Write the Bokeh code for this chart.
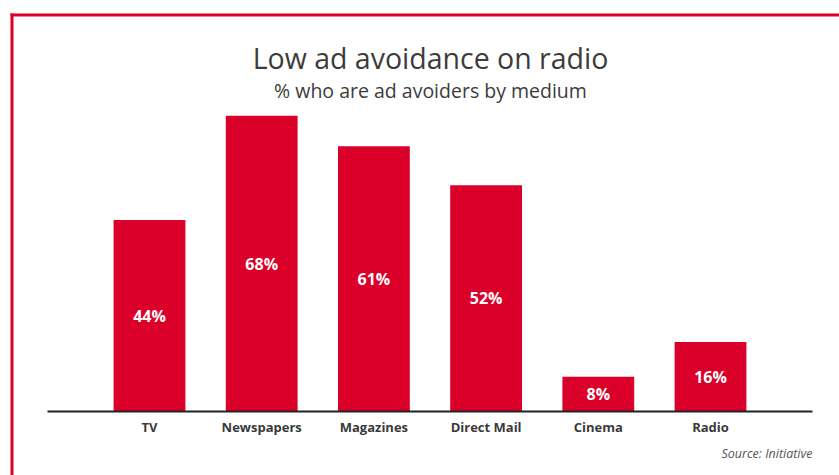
from bokeh.plotting import figure
from bokeh.models import Range1d, Label, BoxAnnotation, ColumnDataSource
from bokeh.core.properties import value
from bokeh.embed import file_html
from bokeh.resources import INLINE

categories = ["TV", "Newspapers", "Magazines", "Direct Mail", "Cinema", "Radio"]
values = [44, 68, 61, 52, 8, 16]
value_labels = [f"{v}%" for v in values]

title_text = "Low ad avoidance on radio"
subtitle_text = "% who are ad avoiders by medium"
source_text = "Source: Initiative"

RED = "#da0029"
FONT = "Open Sans"

# pixel scale of the chart
UNIT_X = 112.2     # px per category
UNIT_Y = 4.35      # px per percentage point
W, H = 839, 475
BASE_PX = 411      # baseline position from top
FIRST_PX = 149     # centre of first bar from left

pos = list(range(len(categories)))
src = ColumnDataSource(dict(x=pos, cat=categories, val=values,
                            mid=[v / 2 for v in values], lab=value_labels))

x0 = -FIRST_PX / UNIT_X
y0 = -(H - BASE_PX) / UNIT_Y
p = figure(
    width=W, height=H,
    x_range=Range1d(x0, x0 + W / UNIT_X),
    y_range=Range1d(y0, y0 + H / UNIT_Y),
    output_backend="svg", toolbar_location=None,
    min_border=0,
)
p.outline_line_color = None
p.background_fill_color = "white"
p.border_fill_color = "white"
p.grid.visible = False
p.axis.visible = False

p.vbar(x="x", top="val", width=0.64, source=src, fill_color=RED, line_color=None)
p.text(x="x", y="mid", text="lab", source=src, text_color="white",
       text_font=value(FONT), text_font_size="16px", text_font_style="bold",
       text_align="center", text_baseline="middle")

# category labels under the baseline
p.text(x="x", y=-15 / UNIT_Y, text="cat", source=src,
       text_color="#3a3a3a", text_font=value(FONT), text_font_size="13px",
       text_font_style="bold", text_align="center", text_baseline="middle")


def px_x(px):
    return (px - FIRST_PX) / UNIT_X


def px_y(py):
    return (BASE_PX - py) / UNIT_Y


def px_box(left, right, top, bottom, color):
    return BoxAnnotation(left=px_x(left), right=px_x(right),
                         top=px_y(top), bottom=px_y(bottom),
                         fill_color=color, fill_alpha=1, line_color=None, line_alpha=0)


# baseline (axis line)
p.add_layout(px_box(47, 812, 410, 412, "#222222"))

p.add_layout(Label(x=px_x(430), y=px_y(57), text=title_text,
                   text_font=FONT, text_font_size="28.5px", text_color="#3c3c3c",
                   text_align="center", text_baseline="middle"))
p.add_layout(Label(x=px_x(430), y=px_y(90), text=subtitle_text,
                   text_font=FONT, text_font_size="19.5px", text_color="#3c3c3c",
                   text_align="center", text_baseline="middle"))
p.add_layout(Label(x=px_x(812), y=px_y(453), text=source_text,
                   text_font=FONT, text_font_size="12.5px", text_font_style="italic",
                   text_color="#555555", text_align="right", text_baseline="middle"))

# red frame round the graphic (only top and left edges visible)
p.add_layout(px_box(10, W + 10, 13, 16, RED))
p.add_layout(px_box(10, 13, 13, H + 10, RED))

open("out.html", "w").write(file_html(p, INLINE))
